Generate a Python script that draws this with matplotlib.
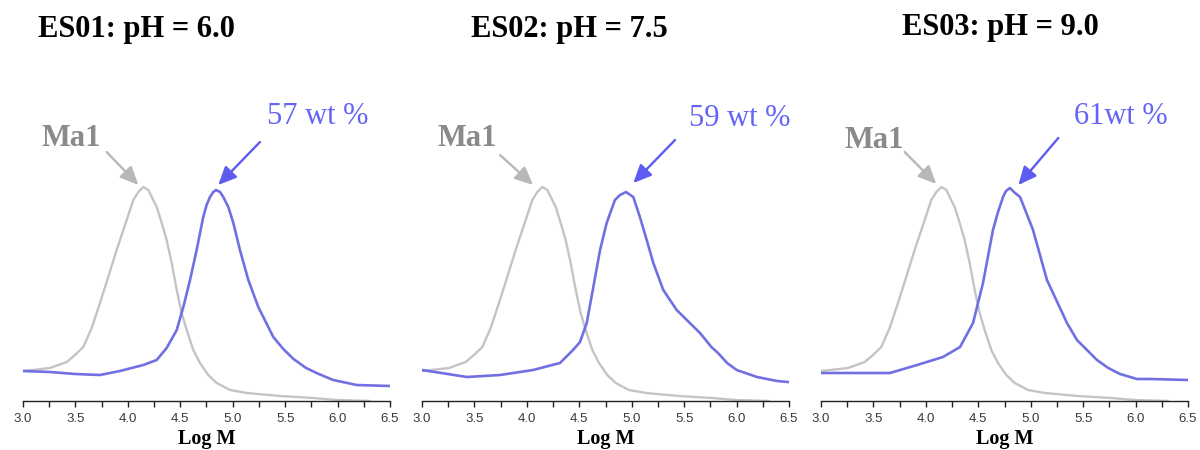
import matplotlib
matplotlib.use("Agg")
import matplotlib.pyplot as plt
from matplotlib.ticker import MultipleLocator

# ---- data (log M vs detector signal, arbitrary units) ----
ma1_logm = [3.000, 3.257, 3.417, 3.496, 3.575, 3.655, 3.734, 3.813, 3.893, 3.973,
            4.052, 4.100, 4.147, 4.195, 4.275, 4.323, 4.370, 4.418, 4.466, 4.513,
            4.561, 4.624, 4.688, 4.767, 4.847, 4.974, 5.136, 5.451, 5.766, 5.994,
            6.309]
ma1_signal = [31, 34, 40, 47, 55, 74, 99, 125, 152, 177,
              202, 210, 215, 212, 195, 179, 162, 139, 112, 89,
              72, 52, 39, 27, 19, 12, 9, 6, 4, 2,
              1]

es01_logm = [3.000, 3.257, 3.496, 3.734, 3.925, 4.147, 4.275, 4.370, 4.466, 4.529,
             4.593, 4.656, 4.719, 4.751, 4.783, 4.815, 4.841, 4.879, 4.910, 4.958,
             5.006, 5.069, 5.149, 5.244, 5.387, 5.482, 5.580, 5.700, 5.820, 5.959,
             6.182, 6.500]
es01_signal = [31, 30, 28, 27, 31, 37, 42, 54, 72, 95,
               122, 152, 185, 197, 205, 210, 212, 210, 205, 195,
               179, 152, 122, 95, 65, 53, 43, 34, 28, 22,
               17, 16]

es02_logm = [3.000, 3.429, 3.744, 4.059, 4.316, 4.440, 4.507, 4.571, 4.634, 4.698,
             4.761, 4.840, 4.888, 4.945, 5.015, 5.078, 5.143, 5.206, 5.301, 5.429,
             5.651, 5.760, 5.823, 5.910, 6.001, 6.195, 6.386, 6.490]
es02_signal = [32, 25, 27, 32, 39, 52, 60, 79, 115, 152,
               179, 202, 207, 210, 205, 185, 162, 139, 112, 92,
               69, 55, 49, 39, 32, 25, 21, 20]

es03_logm = [3.000, 3.658, 3.916, 4.163, 4.326, 4.450, 4.545, 4.640, 4.688, 4.736,
             4.764, 4.802, 4.840, 4.898, 4.955, 5.022, 5.155, 5.346, 5.441, 5.632,
             5.740, 5.851, 6.014, 6.138, 6.500]
es03_signal = [29, 29, 37, 45, 55, 79, 119, 172, 190, 205,
               211, 214, 210, 205, 190, 172, 122, 79, 62, 42,
               34, 28, 23, 23, 22]

panel_titles = ["ES01: pH = 6.0", "ES02: pH = 7.5", "ES03: pH = 9.0"]
wt_labels = ["57 wt %", "59 wt %", "61wt %"]
tick_values = [3.0, 3.5, 4.0, 4.5, 5.0, 5.5, 6.0, 6.5]
series = [(es01_logm, es01_signal), (es02_logm, es02_signal), (es03_logm, es03_signal)]

# ---- styling / layout ----
GRAY_LINE = "#c4c4c4"
GRAY_TEXT = "#8a8a8a"
GRAY_ARROW = "#b8b8b8"
BLUE_LINE = "#7070e2"
BLUE_TEXT = "#6464f5"
BLUE_ARROW = "#5c5cf0"

W, H = 1200, 450
fig = plt.figure(figsize=(12, 4.5), dpi=100)

lefts_px = [23, 422, 821]
width_px = 367
bottom_px = 401
top_px = 60

title_pos = [(136.5, 30), (569.5, 30), (1000.5, 27)]
ma1_text_pos = [(3.458, 263), (3.434, 264), (3.505, 262)]
ma1_arrow = [((3.798, 250), (4.10, 217)), ((3.744, 247), (4.06, 217)), ((3.798, 250), (4.10, 218))]
wt_text_pos = [(5.809, 285), (6.033, 284), (5.862, 285)]
wt_arrow = [((5.260, 260), (4.862, 217)), ((5.413, 262), (5.015, 219)), ((5.263, 264), (4.882, 217))]

serif = "Liberation Serif"
arrow_style = "-|>,head_length=1.1,head_width=0.5"

for i in range(3):
    ax = fig.add_axes([lefts_px[i] / W, (H - bottom_px) / H,
                       width_px / W, (bottom_px - top_px) / H])
    ax.plot(ma1_logm, ma1_signal, color=GRAY_LINE, lw=1.7,
            solid_joinstyle="round", solid_capstyle="round")
    x, y = series[i]
    ax.plot(x, y, color=BLUE_LINE, lw=1.9, solid_joinstyle="round")
    ax.set_xlim(3.0, 6.5)
    ax.set_ylim(1, 342)
    for s in ("top", "right", "left"):
        ax.spines[s].set_visible(False)
    ax.spines["bottom"].set_color("#222222")
    ax.spines["bottom"].set_linewidth(1.0)
    ax.set_yticks([])
    ax.xaxis.set_minor_locator(MultipleLocator(0.25))
    ax.tick_params(axis="x", which="both", direction="out", length=4.5, width=1.0,
                   color="#222222", pad=4, labelsize=9.5, labelcolor="#3a3a3a")
    ax.set_xticks(tick_values)
    ax.set_xticklabels([f"{v:.1f}" for v in tick_values], fontfamily="Liberation Sans")
    ax.patch.set_alpha(0)

    # annotations
    ax.text(*ma1_text_pos[i], "Ma1", color=GRAY_TEXT, fontsize=22, fontweight="bold",
            family=serif, ha="center", va="center")
    ax.annotate("", xy=ma1_arrow[i][1], xytext=ma1_arrow[i][0],
                arrowprops=dict(arrowstyle=arrow_style, color=GRAY_ARROW, lw=1.7,
                                shrinkA=0, shrinkB=0))
    ax.text(*wt_text_pos[i], wt_labels[i], color=BLUE_TEXT, fontsize=22,
            family=serif, ha="center", va="center")
    ax.annotate("", xy=wt_arrow[i][1], xytext=wt_arrow[i][0],
                arrowprops=dict(arrowstyle=arrow_style, color=BLUE_ARROW, lw=1.7,
                                shrinkA=0, shrinkB=0))

    # titles & x labels
    tx, ty = title_pos[i]
    fig.text(tx / W, 1 - ty / H, panel_titles[i], fontsize=22, fontweight="bold",
             family=serif, ha="center", va="center", color="black")
    fig.text((lefts_px[i] + width_px / 2) / W, 1 - 439 / H, "Log M", fontsize=14.5,
             fontweight="bold", family=serif, ha="center", va="center", color="black")

fig.savefig("out.png", dpi=100, facecolor="white")
